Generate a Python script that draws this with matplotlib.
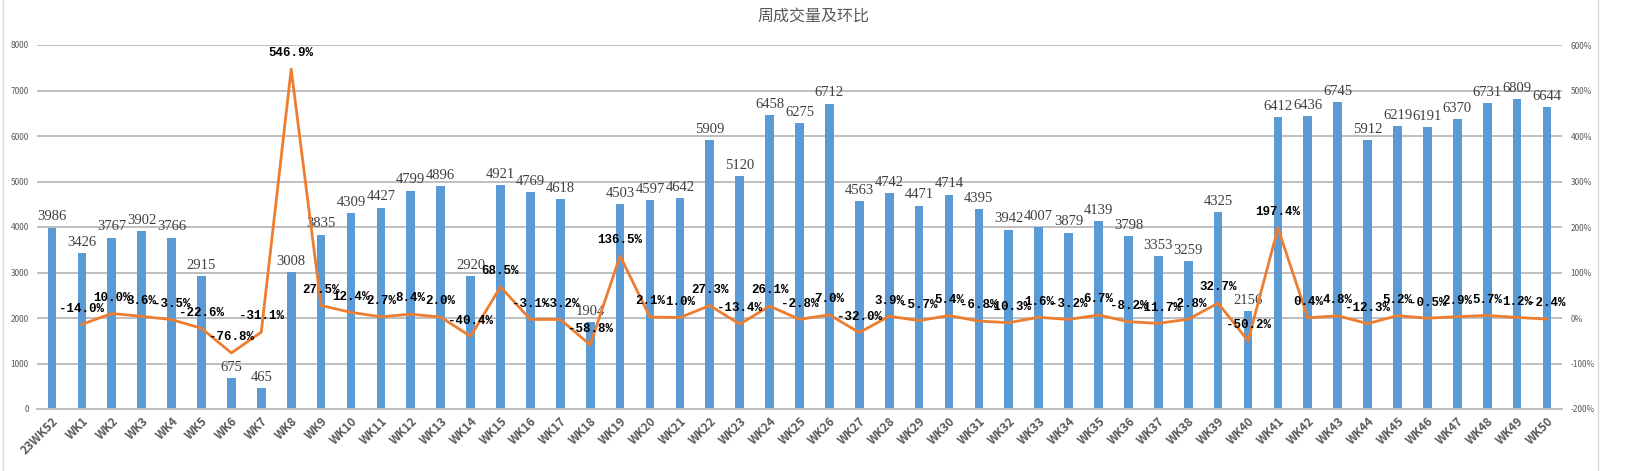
import numpy as np
import matplotlib
matplotlib.use("Agg")
import matplotlib.pyplot as plt
from matplotlib.ticker import FuncFormatter

plt.rcParams['font.family'] = ['Noto Sans CJK SC', 'DejaVu Sans']

weeks = ["23WK52"] + ["WK%d" % i for i in range(1, 51)]
volume = [3986, 3426, 3767, 3902, 3766, 2915, 675, 465, 3008, 3835,
          4309, 4427, 4799, 4896, 2920, 4921, 4769, 4618, 1904, 4503,
          4597, 4642, 5909, 5120, 6458, 6275, 6712, 4563, 4742, 4471,
          4714, 4395, 3942, 4007, 3879, 4139, 3798, 3353, 3259, 4325,
          2156, 6412, 6436, 6745, 5912, 6219, 6191, 6370, 6731, 6809,
          6644]
# week-on-week change (%), from WK1 on
change = [-14.0, 10.0, 3.6, -3.5, -22.6, -76.8, -31.1, 546.9, 27.5, 12.4,
          2.7, 8.4, 2.0, -40.4, 68.5, -3.1, -3.2, -58.8, 136.5, 2.1,
          1.0, 27.3, -13.4, 26.1, -2.8, 7.0, -32.0, 3.9, -5.7, 5.4,
          -6.8, -10.3, 1.6, -3.2, 6.7, -8.2, -11.7, -2.8, 32.7, -50.2,
          197.4, 0.4, 4.8, -12.3, 5.2, -0.5, 2.9, 5.7, 1.2, -2.4]

bar_color = "#5B9BD5"
line_color = "#ED7D31"
grid_color = "#BFBFBF"

fig = plt.figure(figsize=(16.27, 4.71), dpi=100)
ax = fig.add_axes([37/1627, 1-409/471, (1562-37)/1627, (409-45)/471])
ax2 = ax.twinx()

x = np.arange(len(weeks))
ax.bar(x, volume, width=0.29, color=bar_color, zorder=2)
ax.set_ylim(0, 8000)
ax.set_xlim(-0.5, len(weeks)-0.5)
ax.set_yticks(np.arange(0, 8001, 1000))
ax.grid(axis="y", color=grid_color, lw=1.4, zorder=0)
ax.set_axisbelow(True)

for xi, v in zip(x, volume):
    ax.annotate(str(v), (xi, v), xytext=(0, 3), textcoords="offset points",
                ha="center", va="bottom", fontsize=10.5, color="#404040",
                family="Liberation Serif", zorder=5)

ax2.plot(x[1:], change, color=line_color, lw=2, zorder=3)
ax2.set_ylim(-200, 600)
ax2.set_yticks(np.arange(-200, 601, 100))
ax2.yaxis.set_major_formatter(FuncFormatter(lambda v, p: "%d%%" % v))
for xi, c in zip(x[1:], change):
    ax2.annotate("%.1f%%" % c, (xi, c), xytext=(0, 7), textcoords="offset points",
                 ha="center", va="bottom", fontsize=9, color="black",
                 family="Liberation Mono", fontweight="bold", zorder=6)

for a in (ax, ax2):
    for s in a.spines.values():
        s.set_visible(False)
    a.tick_params(length=0)
ax.spines["bottom"].set_visible(True)
ax.spines["bottom"].set_color(grid_color)
ax.spines["bottom"].set_linewidth(1.4)

ax.tick_params(axis="y", labelsize=6, labelcolor="#595959", pad=6)
ax2.tick_params(axis="y", labelsize=6, labelcolor="#595959", pad=6)
ax.set_xticks(x)
ax.set_xticklabels(weeks, rotation=45, ha="right", rotation_mode="anchor",
                   fontsize=8.5, fontweight="bold", color="#595959")
ax.tick_params(axis="x", pad=4)

fig.text(0.5, 1-16/471, "周成交量及环比", ha="center", va="center",
         fontsize=11.5, color="#595959")

# chart area border lines
fig.add_artist(plt.Line2D([3/1627, 3/1627], [0, 1], color="#D9D9D9", lw=1))
fig.add_artist(plt.Line2D([1598/1627, 1598/1627], [0, 1], color="#D9D9D9", lw=1))

fig.savefig("out.png", dpi=100, facecolor="white")
